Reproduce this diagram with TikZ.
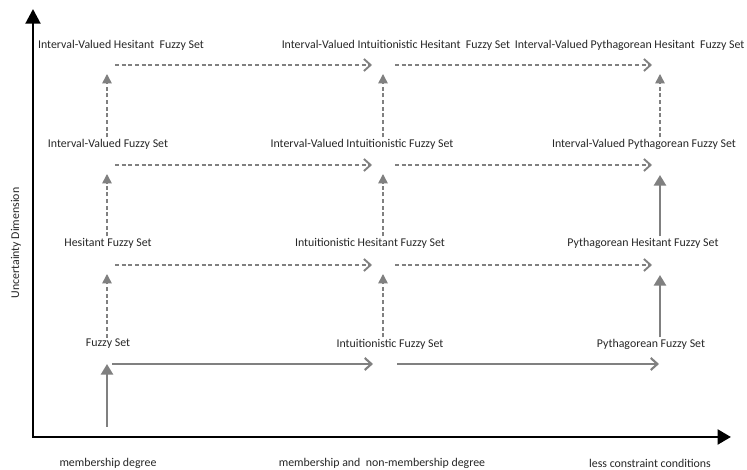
\documentclass[tikz,border=0pt]{standalone}
\usepackage{fontspec}
\setmainfont{Carlito}
\usetikzlibrary{arrows.meta, positioning, calc}

\begin{document}
\begin{tikzpicture}[
		% Estilos de la figura
		x=0.75pt, y=0.75pt,
		etiqueta/.style = {font=\fontsize{8.9}{10}\selectfont, text=black!85, inner sep=1pt},
		eje/.style = {draw=black, line width=2.2pt, line join=miter, {Triangle[length=11pt,width=11pt]}-{Triangle[length=10pt,width=11pt]}},
		flechaH/.style = {draw=black!50, line width=1.1pt, dash pattern=on 3pt off 2pt, -{Straight Barb[length=5pt,width=9pt,line width=1.4pt]}},
		flechaHs/.style = {draw=black!50, line width=2pt, -{Straight Barb[length=5pt,width=9pt,line width=1.6pt]}},
		flechaV/.style = {draw=black!50, line width=1.1pt, dash pattern=on 3pt off 2pt, -{Triangle[length=7pt,width=7pt]}},
		flechaVs/.style = {draw=black!50, line width=2pt, -{Triangle[length=8pt,width=9pt]}}
		]
		
		\useasboundingbox (0,0) rectangle (747,470);
		
		% --- EJES ---
		\coordinate (origen) at (33,33);
		\coordinate (ytop) at (33,461);
		\coordinate (xfin) at (731,33);
		\draw [eje] (ytop) -- (origen) -- (xfin);
		\node [etiqueta, rotate=90] (ejeY) at (16,227) {Uncertainty Dimension};
		\node [etiqueta] (xa) at (108,7) {membership degree};
		\node [etiqueta] (xb) at (382,7) {membership and\ \ non-membership degree};
		\node [etiqueta] (xc) at (650,7) {less constraint conditions};
		
		% --- PUNTOS DE CRUCE (columna, fila) ---
		\coordinate (c11) at (107,106);
		\coordinate (c21) at (383,106);
		\coordinate (c31) at (660,106);
		\coordinate (c12) at (107,205);
		\coordinate (c22) at (383,205);
		\coordinate (c32) at (660,205);
		\coordinate (c13) at (107,305);
		\coordinate (c23) at (383,305);
		\coordinate (c33) at (660,305);
		\coordinate (c14) at (107,405);
		\coordinate (c24) at (383,405);
		\coordinate (c34) at (660,405);
		\coordinate (base) at (107,43);
		
		% --- CONJUNTOS ---
		\node [etiqueta] (fs) at (108,126) {Fuzzy Set};
		\node [etiqueta] (ifs) at (390,126) {Intuitionistic Fuzzy Set};
		\node [etiqueta] (pfs) at (651,126) {Pythagorean Fuzzy Set};
		
		\node [etiqueta] (hfs) at (108,227) {Hesitant Fuzzy Set};
		\node [etiqueta] (ihfs) at (370,227) {Intuitionistic Hesitant Fuzzy Set};
		\node [etiqueta] (phfs) at (643,227) {Pythagorean Hesitant Fuzzy Set};
		
		\node [etiqueta] (ivfs) at (108,326) {Interval-Valued Fuzzy Set};
		\node [etiqueta] (ivifs) at (362,326) {Interval-Valued Intuitionistic Fuzzy Set};
		\node [etiqueta] (ivpfs) at (644,326) {Interval-Valued Pythagorean Fuzzy Set};
		
		\node [etiqueta] (ivhfs) at (121,425) {Interval-Valued Hesitant\ \ Fuzzy Set};
		\node [etiqueta] (ivihfs) at (396,425) {Interval-Valued Intuitionistic Hesitant\ \ Fuzzy Set};
		\node [etiqueta, anchor=east] (ivphfs) at (746,425) {Interval-Valued Pythagorean Hesitant\ \ Fuzzy Set};
		
		% --- FLECHAS HORIZONTALES ---
		\draw [flechaHs] ($(c11)+(5,0)$) -- ($(c21)+(-10,0)$);
		\draw [flechaHs] ($(c21)+(14,0)$) -- ($(c31)+(-1,0)$);
		\draw [flechaH] ($(c12)+(8,0)$) -- ($(c22)+(-11,0)$);
		\draw [flechaH] ($(c22)+(12,0)$) -- ($(c32)+(-8,0)$);
		\draw [flechaH] ($(c13)+(8,0)$) -- ($(c23)+(-11,0)$);
		\draw [flechaH] ($(c23)+(12,0)$) -- ($(c33)+(-8,0)$);
		\draw [flechaH] ($(c14)+(8,0)$) -- ($(c24)+(-11,0)$);
		\draw [flechaH] ($(c24)+(12,0)$) -- ($(c34)+(-8,0)$);
		
		% --- FLECHAS VERTICALES ---
		\draw [flechaVs] (base) -- (c11);
		\draw [flechaV] (fs.north -| c11) -- ($(c12)+(0,-9)$);
		\draw [flechaV] (hfs.north -| c12) -- ($(c13)+(0,-9)$);
		\draw [flechaV] (ivfs.north -| c13) -- ($(c14)+(0,-9)$);
		
		\draw [flechaV] (ifs.north -| c21) -- ($(c22)+(0,-9)$);
		\draw [flechaV] (ihfs.north -| c22) -- ($(c23)+(0,-9)$);
		\draw [flechaV] (ivifs.north -| c23) -- ($(c24)+(0,-9)$);
		
		\draw [flechaVs] (pfs.north -| c31) -- ($(c32)+(0,-10)$);
		\draw [flechaVs] (phfs.north -| c32) -- ($(c33)+(0,-10)$);
		\draw [flechaV] (ivpfs.north -| c33) -- ($(c34)+(0,-9)$);
		
	\end{tikzpicture}
\end{document}
